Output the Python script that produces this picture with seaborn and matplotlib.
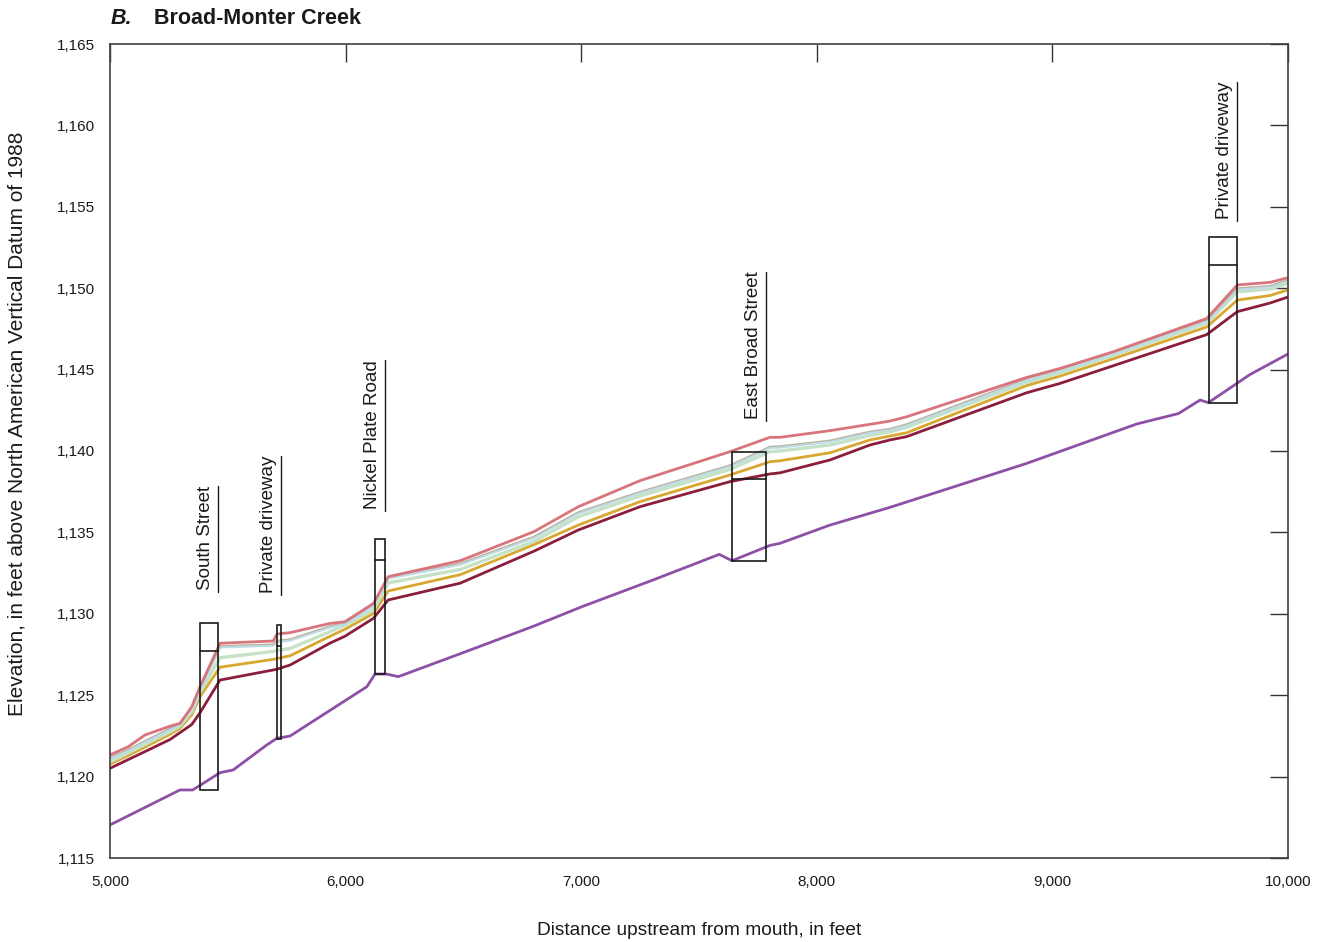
import matplotlib
matplotlib.use("Agg")
import matplotlib.pyplot as plt
import matplotlib.ticker as mticker
import matplotlib.transforms as mtransforms
import numpy as np
import pandas as pd
import seaborn as sns

# Cross-section stations, feet upstream from mouth
station = [5000, 5078, 5149, 5255, 5297, 5347, 5382, 5467, 5693, 5709, 5764,
           5934, 5997, 6118, 6181, 6486, 6800, 6988, 7250, 7632, 7801, 7844,
           8056, 8226, 8311, 8381, 8891, 9032, 9259, 9655, 9785, 9924, 10000]

# Water-surface profiles (feet, NAVD 88)
ws_red = [1121.33, 1121.84, 1122.56, 1123.10, 1123.27, 1124.29, 1125.52, 1128.19,
          1128.33, 1128.76, 1128.84, 1129.41, 1129.51, 1130.64, 1132.28, 1133.26,
          1135.05, 1136.58, 1138.18, 1139.96, 1140.84, 1140.84, 1141.25, 1141.64,
          1141.84, 1142.10, 1144.52, 1145.07, 1146.10, 1148.14, 1150.20, 1150.36,
          1150.64]
ws_blue = [1121.12, 1121.62, 1122.15, 1122.92, 1123.20, 1124.15, 1125.35, 1127.97,
           1128.08, 1128.30, 1128.39, 1129.20, 1129.40, 1130.50, 1132.20, 1133.05,
           1134.70, 1136.20, 1137.45, 1139.08, 1140.22, 1140.25, 1140.60, 1141.15,
           1141.32, 1141.60, 1144.38, 1144.95, 1146.00, 1147.98, 1149.95, 1150.10,
           1150.45]
ws_tan = [1121.18, 1121.68, 1122.21, 1122.98, 1123.26, 1124.21, 1125.41, 1128.03,
          1128.14, 1128.36, 1128.45, 1129.26, 1129.46, 1130.56, 1132.26, 1133.11,
          1134.76, 1136.26, 1137.51, 1139.14, 1140.28, 1140.31, 1140.66, 1141.21,
          1141.38, 1141.66, 1144.44, 1145.01, 1146.06, 1148.04, 1150.01, 1150.16,
          1150.51]
ws_green = [1120.90, 1121.45, 1121.98, 1122.75, 1123.10, 1124.00, 1125.15, 1127.30,
            1127.69, 1127.75, 1127.87, 1128.90, 1129.30, 1130.23, 1131.90, 1132.72,
            1134.45, 1135.96, 1137.24, 1138.87, 1139.96, 1140.00, 1140.37, 1140.95,
            1141.18, 1141.45, 1144.23, 1144.80, 1145.88, 1147.85, 1149.78, 1149.95,
            1150.30]
ws_gold = [1120.77, 1121.30, 1121.82, 1122.60, 1122.96, 1123.80, 1124.91, 1126.72,
           1127.20, 1127.25, 1127.42, 1128.62, 1129.05, 1130.02, 1131.40, 1132.40,
           1134.25, 1135.45, 1136.89, 1138.53, 1139.34, 1139.40, 1139.89, 1140.68,
           1140.92, 1141.12, 1144.02, 1144.60, 1145.67, 1147.62, 1149.27, 1149.55,
           1149.90]
ws_darkred = [1120.51, 1121.05, 1121.54, 1122.28, 1122.70, 1123.20, 1123.92, 1125.93,
              1126.55, 1126.60, 1126.85, 1128.20, 1128.62, 1129.72, 1130.85, 1131.88,
              1133.85, 1135.15, 1136.58, 1138.12, 1138.59, 1138.66, 1139.45, 1140.37,
              1140.68, 1140.88, 1143.58, 1144.15, 1145.24, 1147.15, 1148.56, 1149.09,
              1149.46]

# Channel bottom
bed_station = [5000, 5297, 5351, 5467, 5523, 5665, 5708, 5764, 6090, 6125, 6174,
               6224, 6500, 6800, 7000, 7300, 7586, 7640, 7801, 7844, 8056, 8311,
               8891, 9358, 9535, 9627, 9662, 9839, 10000]
bed_elev = [1117.03, 1119.18, 1119.18, 1120.24, 1120.41, 1121.94, 1122.35, 1122.49,
            1125.52, 1126.30, 1126.30, 1126.14, 1127.62, 1129.25, 1130.42, 1132.05,
            1133.65, 1133.26, 1134.20, 1134.33, 1135.45, 1136.54, 1139.24, 1141.66,
            1142.30, 1143.13, 1142.97, 1144.70, 1145.96]

# Structures: upstream/downstream face, invert, low chord, deck top
struct_name = ["South Street", "Private driveway", "Nickel Plate Road",
               "East Broad Street", "Private driveway"]
struct_left = [5382, 5709, 6125, 7640, 9663]
struct_right = [5458, 5726, 6167, 7784, 9784]
struct_bottom = [1119.18, 1122.31, 1126.30, 1133.24, 1142.97]
struct_chord = [1127.71, 1128.02, 1133.30, 1138.26, 1151.43]
struct_top = [1129.43, 1129.31, 1134.57, 1139.92, 1153.16]
label_base = [1131.45, 1131.25, 1136.45, 1141.95, 1154.25]

x_ticks = list(range(5000, 10001, 1000))
y_ticks = list(range(1115, 1166, 5))

sns.set_theme(style="white")
plt.rcParams["font.family"] = ["Liberation Sans", "DejaVu Sans"]

fig = plt.figure(figsize=(13.21, 9.42), dpi=100)
ax = fig.add_axes([110 / 1321, 1 - 858 / 942, 1178 / 1321, 814 / 942])

profiles = [
    (ws_darkred, "#8b1e3a", 2.0),
    (ws_gold, "#d8a730", 2.0),
    (ws_green, "#c5e2c6", 2.4),
    (ws_blue, "#bcdce6", 2.4),
    (ws_tan, "#c9a98c", 0.7),
    (ws_red, "#d8747c", 2.0),
]
for vals, col, lw in profiles:
    df = pd.DataFrame({"station": station, "elev": vals})
    sns.lineplot(data=df, x="station", y="elev", ax=ax, color=col, lw=lw,
                 sort=False, estimator=None)

bed = pd.DataFrame({"station": bed_station, "elev": bed_elev})
sns.lineplot(data=bed, x="station", y="elev", ax=ax, color="#8e4fa6", lw=2.0,
             sort=False, estimator=None)

# Bridges and culverts
for i in range(len(struct_name)):
    l, r = struct_left[i], struct_right[i]
    ax.add_patch(plt.Rectangle((l, struct_bottom[i]), r - l,
                               struct_top[i] - struct_bottom[i],
                               fill=False, ec="#1a1a1a", lw=1.2, zorder=5))
    ax.plot([l, r], [struct_chord[i]] * 2, color="#1a1a1a", lw=1.2, zorder=5)

ax.set_xlim(5000, 10000)
ax.set_ylim(1115, 1165)
ax.set_xticks(x_ticks)
ax.set_yticks(y_ticks)
fmt = mticker.FuncFormatter(lambda v, p: f"{int(v):,}")
ax.xaxis.set_major_formatter(fmt)
ax.yaxis.set_major_formatter(fmt)
ax.tick_params(direction="in", length=13, width=1.0, color="#333333",
               top=True, right=True, labelsize=11, labelcolor="#1a1a1a")
ax.tick_params(axis="x", pad=12)
ax.tick_params(axis="y", pad=11)
for s in ax.spines.values():
    s.set_color("#404040")
    s.set_linewidth(1.2)

ax.set_xlabel("Distance upstream from mouth, in feet", fontsize=13.8,
              labelpad=24, color="#1a1a1a")
ax.set_ylabel("Elevation, in feet above North American Vertical Datum of 1988",
              fontsize=15, color="#1a1a1a")
ax.yaxis.set_label_coords(-0.0705, 0.534)
ax.grid(False)

# Structure labels with a rule along the baseline
fig.canvas.draw()
renderer = fig.canvas.get_renderer()
shift = mtransforms.ScaledTranslation(-4 / 100, 0, fig.dpi_scale_trans)
for i in range(len(struct_name)):
    t = ax.text(struct_right[i], label_base[i], struct_name[i], rotation=90,
                ha="right", va="bottom", fontsize=13.5,
                color="#1a1a1a", transform=ax.transData + shift)
    bb = t.get_window_extent(renderer)
    y0, y1 = ax.transData.inverted().transform([[0, bb.y0], [0, bb.y1]])[:, 1]
    ax.plot([struct_right[i]] * 2, [y0 - 0.12, y1], color="#1a1a1a", lw=1.0,
            clip_on=False)

fig.text(111 / 1321, 1 - 18 / 942, "B.", fontsize=15.5,
         fontweight="bold", fontstyle="italic", va="center", ha="left",
         color="#1a1a1a")
fig.text(154 / 1321, 1 - 18 / 942, "Broad-Monter Creek", fontsize=15.5,
         fontweight="bold", va="center", ha="left", color="#1a1a1a")

fig.savefig("out.png", dpi=100, facecolor="white")
